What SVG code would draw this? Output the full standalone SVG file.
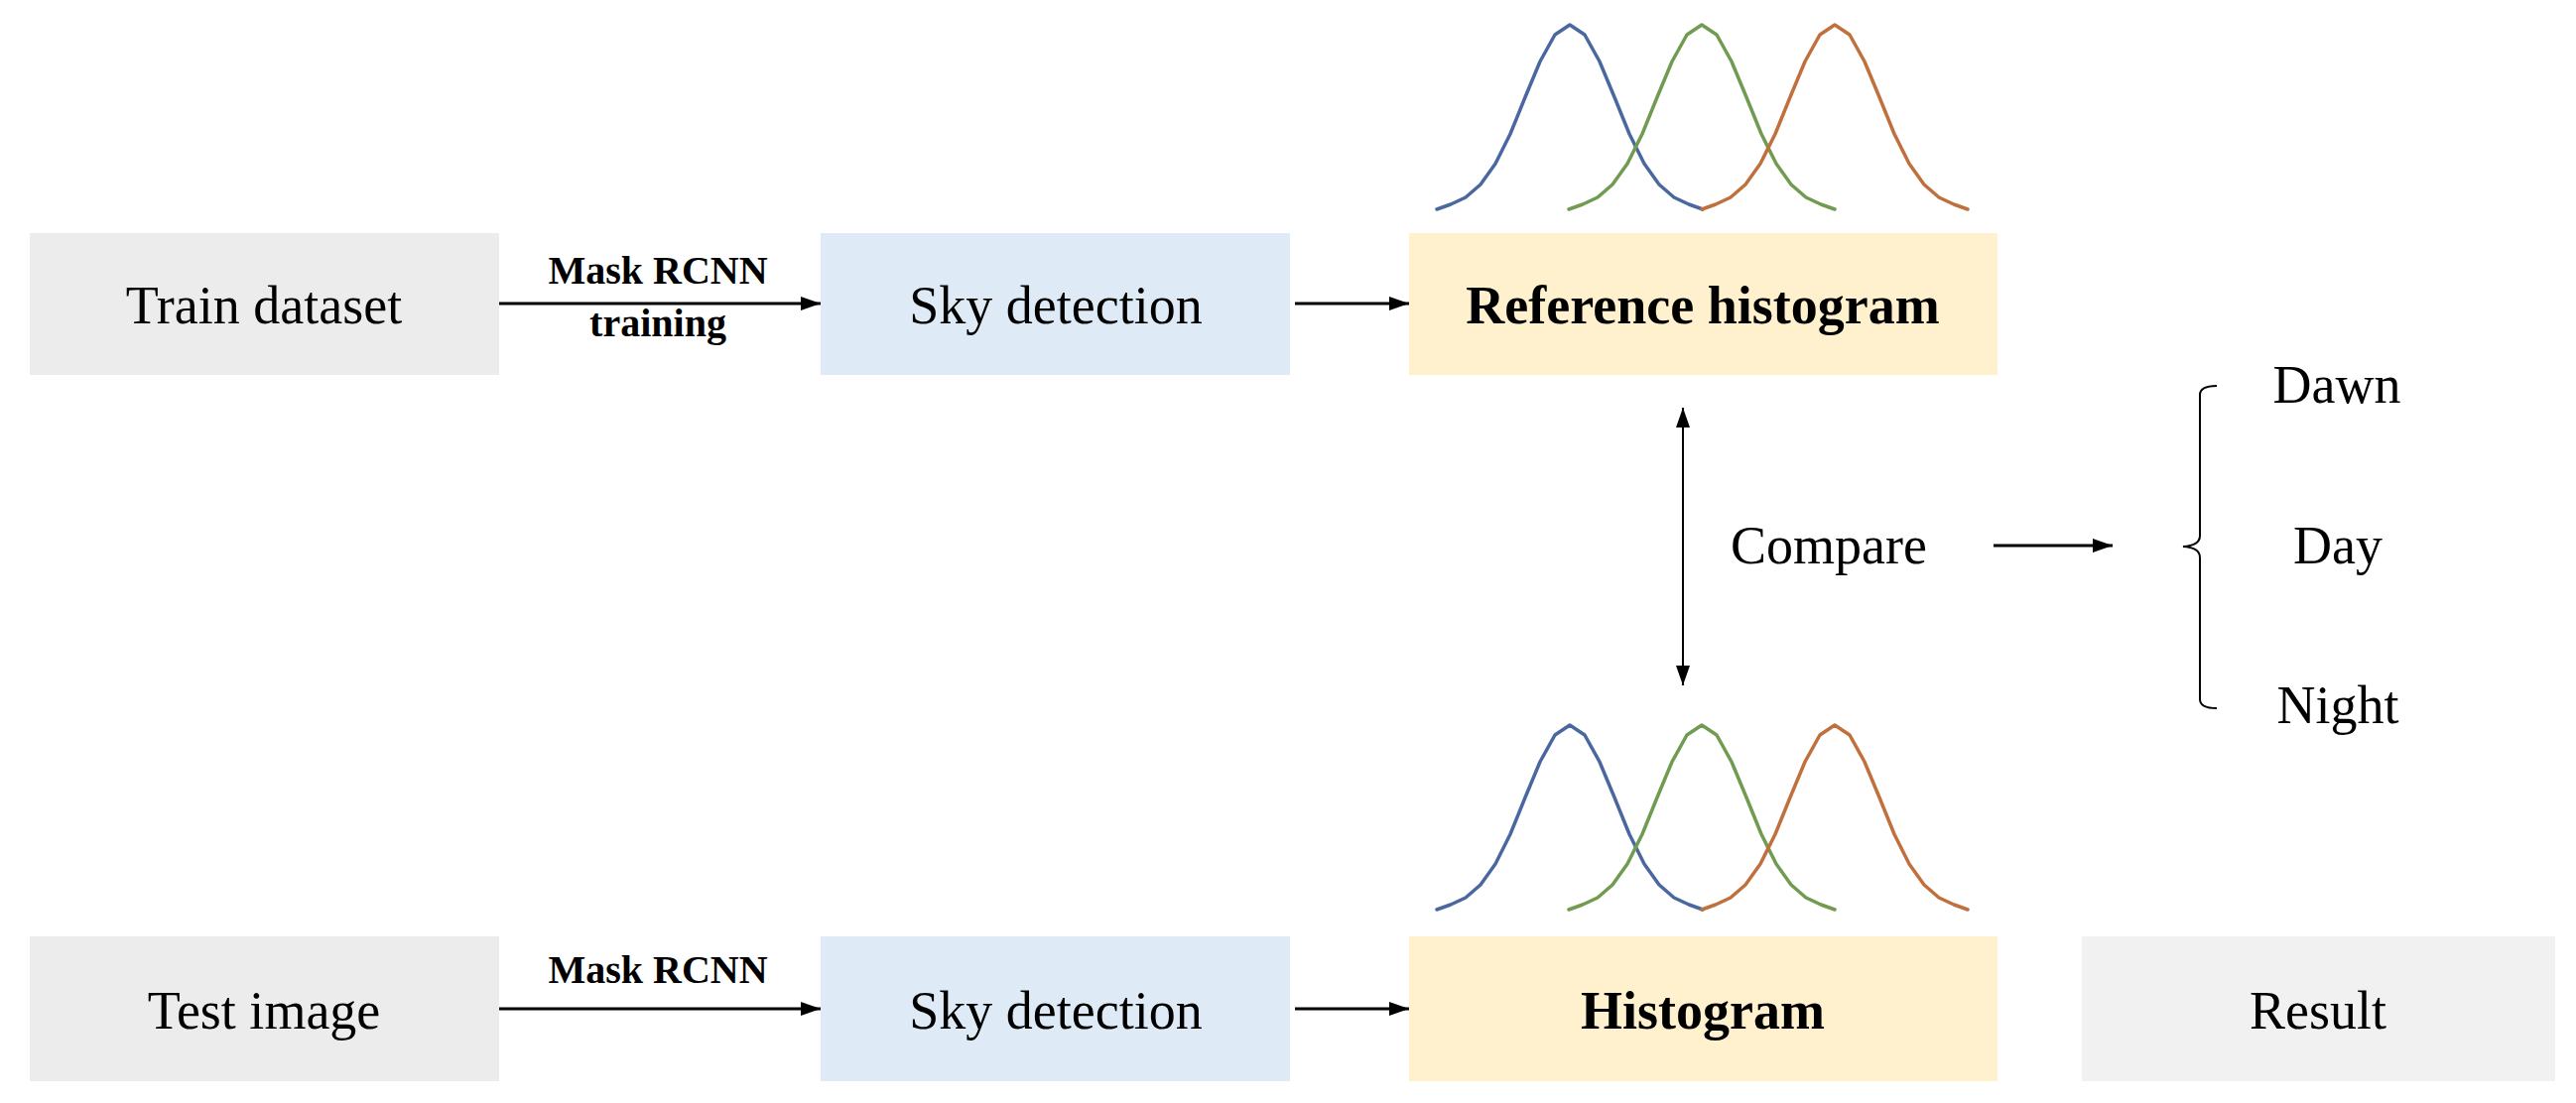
<svg xmlns="http://www.w3.org/2000/svg" xmlns:xlink="http://www.w3.org/1999/xlink" width="2596" height="1112" viewBox="0 0 2596 1112">
<style>
.t{font-family:"Liberation Serif","Times New Roman",serif;font-size:54px;fill:#000;text-anchor:middle}
.b{font-weight:bold}
.s{font-size:40px}
.ln{stroke:#000;stroke-width:3;fill:none}
.g{fill:none;stroke-width:3.5;stroke-linejoin:round;stroke-linecap:round}
</style>
<defs>
<marker id="ah" viewBox="0 0 10 10" refX="10" refY="5" markerWidth="8" markerHeight="8" markerUnits="userSpaceOnUse" orient="auto-start-reverse">
<path d="M0,0L10,5L0,10z" fill="#000"/>
</marker>
<marker id="ah2" viewBox="0 0 10 10" refX="10" refY="5" markerWidth="20" markerHeight="14" markerUnits="userSpaceOnUse" orient="auto-start-reverse" preserveAspectRatio="none">
<path d="M0,0L10,5L0,10z" fill="#000"/>
</marker>
<polyline id="gs" points="-134,186 -120,181 -105,174 -90,161 -75,140 -60,110 -45,73 -30,37 -15,10 0,0 15,10 30,37 45,73 60,110 75,140 90,161 105,174 120,181 134,186"/>
</defs>
<g id="train"><rect x="30" y="235" width="473" height="143" fill="#ececec"/><text class="t" x="266" y="326">Train dataset</text></g>
<g id="sky1"><rect x="827" y="235" width="473" height="143" fill="#deebf6"/><text class="t" x="1064" y="326">Sky detection</text></g>
<g id="refhist"><rect x="1420" y="235" width="593" height="143" fill="#fff1cd"/><text class="t b" x="1716" y="326">Reference histogram</text></g>
<g id="test"><rect x="30" y="944" width="473" height="146" fill="#ececec"/><text class="t" x="266" y="1037">Test image</text></g>
<g id="sky2"><rect x="827" y="944" width="473" height="146" fill="#deebf6"/><text class="t" x="1064" y="1037">Sky detection</text></g>
<g id="hist"><rect x="1420" y="944" width="593" height="146" fill="#fff1cd"/><text class="t b" x="1716" y="1037">Histogram</text></g>
<g id="result"><rect x="2098" y="944" width="477" height="146" fill="#f1f1f1"/><text class="t" x="2336" y="1037">Result</text></g>
<g id="curves-top">
<use xlink:href="#gs" class="g" stroke="#4a67a0" transform="translate(1582,25)"/>
<use xlink:href="#gs" class="g" stroke="#719b50" transform="translate(1715,25)"/>
<use xlink:href="#gs" class="g" stroke="#c0703c" transform="translate(1849,25)"/>
</g>
<g id="curves-bottom">
<use xlink:href="#gs" class="g" stroke="#4a67a0" transform="translate(1582,731)"/>
<use xlink:href="#gs" class="g" stroke="#719b50" transform="translate(1715,731)"/>
<use xlink:href="#gs" class="g" stroke="#c0703c" transform="translate(1849,731)"/>
</g>
<g id="labels">
<text class="t" x="1843" y="568">Compare</text>
<text class="t" x="2355" y="406">Dawn</text>
<text class="t" x="2356" y="568">Day</text>
<text class="t" x="2356" y="729">Night</text>
<text class="t b s" x="663" y="286">Mask RCNN</text>
<text class="t b s" x="663" y="339">training</text>
<text class="t b s" x="663" y="991">Mask RCNN</text>
</g>
<g id="connectors">
<line class="ln" x1="503" y1="306" x2="827" y2="306" marker-end="url(#ah2)"/>
<line class="ln" x1="1305" y1="306" x2="1420" y2="306" marker-end="url(#ah2)"/>
<line class="ln" x1="503" y1="1017" x2="827" y2="1017" marker-end="url(#ah2)"/>
<line class="ln" x1="1305" y1="1017" x2="1420" y2="1017" marker-end="url(#ah2)"/>
<line class="ln" x1="2009" y1="550" x2="2129" y2="550" marker-end="url(#ah2)"/>
<line x1="1696" y1="411" x2="1696" y2="691" stroke="#000" stroke-width="2" marker-start="url(#ah2)" marker-end="url(#ah2)"/>
<path d="M2234,389 Q2217,389 2217,398 L2217,540 Q2217,550 2200,551 Q2217,552 2217,562 L2217,705 Q2217,714 2234,714" fill="none" stroke="#000" stroke-width="2"/>
</g>
</svg>
